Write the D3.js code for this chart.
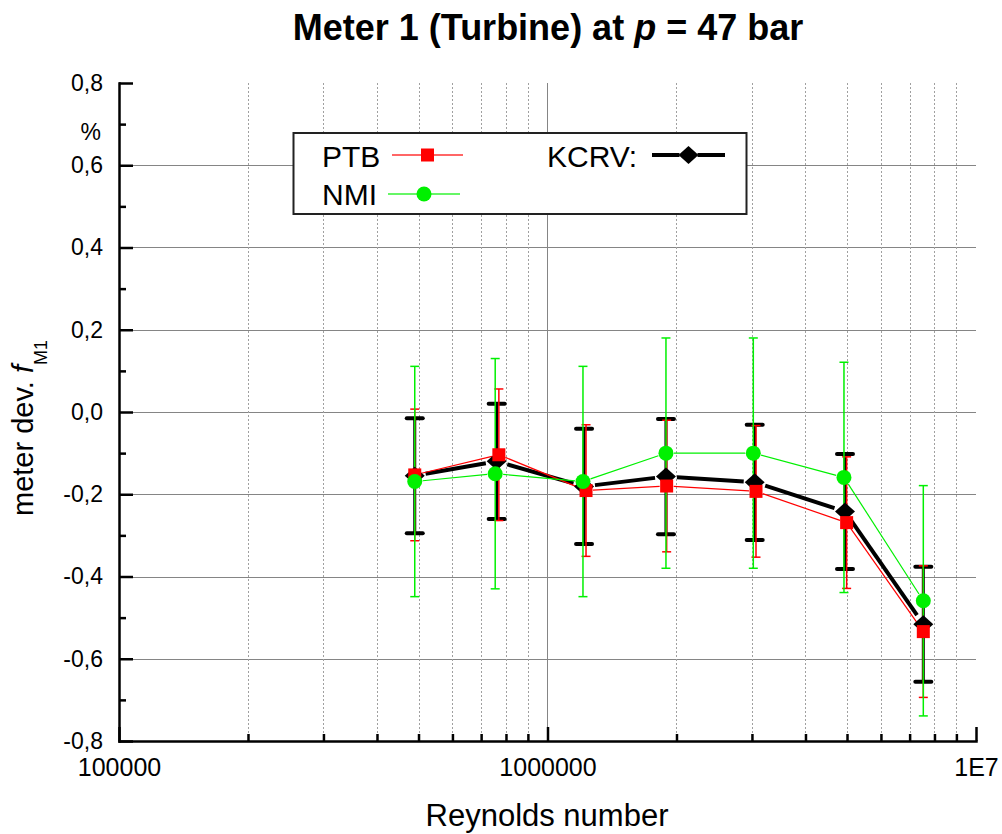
<!DOCTYPE html>
<html>
<head>
<meta charset="utf-8">
<script src="https://cdn.jsdelivr.net/npm/d3@7"></script>
<style>
body { margin: 0; background: #fff; }
svg text { font-family: "Liberation Sans", Arial, sans-serif; fill: #000; }
</style>
</head>
<body>
<svg id="chart" width="1002" height="834"></svg>
<script>
// data
let reynoldsPTB  = [490000, 770000, 1230000, 1897000, 3066000, 4990000, 7534000];
let reynoldsNMI  = [490000, 755000, 1210000, 1890000, 3022000, 4919000, 7534000];
let reynoldsKCRV = [490000, 761000, 1217000, 1890000, 3045000, 4946000, 7534000];

let devPTB  = [-0.153, -0.104, -0.191, -0.180, -0.193, -0.269, -0.534];
let devNMI  = [-0.169, -0.150, -0.169, -0.100, -0.100, -0.159, -0.459];
let devKCRV = [-0.155, -0.120, -0.181, -0.157, -0.171, -0.242, -0.516];

let errPTB  = [0.16, 0.16, 0.16, 0.16, 0.16, 0.16, 0.16];
let errNMI  = [0.28, 0.28, 0.28, 0.28, 0.28, 0.28, 0.28];
let errKCRV = [0.14, 0.14, 0.14, 0.14, 0.14, 0.14, 0.14];

let yMajorTicks = [-0.8, -0.6, -0.4, -0.2, 0, 0.2, 0.4, 0.6, 0.8];
let yMinorTicks = [-0.7, -0.5, -0.3, -0.1, 0.1, 0.3, 0.5, 0.7];
let xMajorTicks = [1e5, 1e6, 1e7];
let xTickLabels = ['100000', '1000000', '1E7'];
let xMinorTicks = [2e5, 3e5, 4e5, 5e5, 6e5, 7e5, 8e5, 9e5, 2e6, 3e6, 4e6, 5e6, 6e6, 7e6, 8e6, 9e6];

const xLeft = 119, xRight = 976, yTop = 83, yBottom = 741;
const green = '#00f000';

let svg = d3.select('#chart');
let x = d3.scaleLog().domain([1e5, 1e7]).range([xLeft, xRight]);
let y = d3.scaleLinear().domain([-0.8, 0.8]).range([yBottom, yTop]);
let crisp = v => Math.round(v) + 0.5;

// grid
let grid = svg.append('g');
grid.selectAll('line.hg')
    .data(yMajorTicks.filter(d => d > -0.8 && d < 0.8))
    .join('line')
    .attr('x1', xLeft).attr('x2', xRight)
    .attr('y1', d => crisp(y(d))).attr('y2', d => crisp(y(d)))
    .attr('stroke', '#858585').attr('stroke-width', 1);
grid.selectAll('line.vm')
    .data(xMinorTicks)
    .join('line')
    .attr('x1', d => crisp(x(d))).attr('x2', d => crisp(x(d)))
    .attr('y1', yTop).attr('y2', yBottom)
    .attr('stroke', '#a0a0a0').attr('stroke-width', 1)
    .attr('stroke-dasharray', '2,2');
grid.selectAll('line.vM')
    .data([1e6])
    .join('line')
    .attr('x1', d => crisp(x(d))).attr('x2', d => crisp(x(d)))
    .attr('y1', yTop).attr('y2', yBottom)
    .attr('stroke', '#858585').attr('stroke-width', 1);

// axes
let fmtY = d => d3.format('.1f')(d).replace('.', ',').replace('\u2212', '-');

function styleAxis(g, size) {
    g.selectAll('path.domain').attr('stroke-width', 2.5).attr('stroke-linecap', 'square');
    g.selectAll('.tick line').attr('stroke-width', 2.5);
    g.selectAll('text').attr('font-size', size).attr('font-family', '"Liberation Sans", Arial, sans-serif');
}

svg.append('g')
    .attr('transform', `translate(${xLeft},0)`)
    .call(d3.axisLeft(y).tickValues(yMinorTicks).tickSize(-7).tickFormat(''))
    .call(g => g.select('.domain').remove())
    .call(g => g.selectAll('.tick line').attr('stroke-width', 2.5));
svg.append('g')
    .attr('transform', `translate(${xLeft},0)`)
    .call(d3.axisLeft(y).tickValues(yMajorTicks).tickSizeInner(-14).tickSizeOuter(0).tickPadding(16).tickFormat(fmtY))
    .call(g => styleAxis(g, 23));

svg.append('g')
    .attr('transform', `translate(0,${yBottom})`)
    .call(d3.axisBottom(x).tickValues(xMinorTicks).tickSize(-7).tickFormat(''))
    .call(g => g.select('.domain').remove())
    .call(g => g.selectAll('.tick line').attr('stroke-width', 2.5));
svg.append('g')
    .attr('transform', `translate(0,${yBottom})`)
    .call(d3.axisBottom(x).tickValues(xMajorTicks).tickSizeInner(-14).tickSizeOuter(0).tickPadding(17)
        .tickFormat((d, i) => xTickLabels[i]))
    .call(g => styleAxis(g, 25));

// titles
let title = svg.append('text')
    .attr('x', 548).attr('y', 40)
    .attr('text-anchor', 'middle')
    .attr('font-size', 36).attr('font-weight', 'bold');
title.append('tspan').text('Meter 1 (Turbine) at ');
title.append('tspan').attr('font-style', 'italic').text('p');
title.append('tspan').text(' = 47 bar');

svg.append('text')
    .attr('x', 547).attr('y', 826)
    .attr('text-anchor', 'middle')
    .attr('font-size', 31)
    .text('Reynolds number');

let ylab = svg.append('text')
    .attr('transform', 'translate(33,516) rotate(-90)')
    .attr('font-size', 29);
ylab.append('tspan').text('meter dev. ');
ylab.append('tspan').attr('font-style', 'italic').text('f');
ylab.append('tspan').attr('font-size', 18).attr('dy', 14).text('M1');

svg.append('text')
    .attr('x', 101).attr('y', 140)
    .attr('text-anchor', 'end')
    .attr('font-size', 23)
    .text('%');

// legend
let legend = svg.append('g');
legend.append('rect')
    .attr('x', 293.5).attr('y', 133).attr('width', 453).attr('height', 81)
    .attr('fill', '#fff').attr('stroke', '#222').attr('stroke-width', 2);

// marker shapes
let diamond = 'M-10,0L0,-9L10,0L0,9Z';
function drawMarker(g, kind, cx, cy) {
    if (kind === 'square') {
        g.append('rect').attr('x', cx - 6.5).attr('y', cy - 6.5).attr('width', 13).attr('height', 13).attr('fill', '#ff0000');
    } else if (kind === 'circle') {
        g.append('circle').attr('cx', cx).attr('cy', cy).attr('r', 7.5).attr('fill', green);
    } else {
        g.append('path').attr('d', diamond).attr('transform', `translate(${cx},${cy})`).attr('fill', '#000');
    }
}

let series = [
    {name: 'KCRV', re: reynoldsKCRV, val: devKCRV, err: errKCRV, color: '#000', lw: 4, ew: 3, cap: 16, capw: 4, marker: 'diamond', gap: 11},
    {name: 'PTB', re: reynoldsPTB, val: devPTB, err: errPTB, color: '#ff0000', lw: 1.2, ew: 1.5, cap: 9, capw: 1.5, marker: 'square', gap: 7},
    {name: 'NMI', re: reynoldsNMI, val: devNMI, err: errNMI, color: green, lw: 1.2, ew: 1.5, cap: 9, capw: 1.5, marker: 'circle', gap: 8}
];

function gapSegment(x1, y1, x2, y2, gap) {
    let dx = x2 - x1, dy = y2 - y1, len = Math.sqrt(dx * dx + dy * dy);
    if (len <= 2 * gap) return null;
    let ux = dx / len, uy = dy / len;
    return [x1 + ux * gap, y1 + uy * gap, x2 - ux * gap, y2 - uy * gap];
}

// legend entries
let legendItems = [
    {s: series[1], label: 'PTB', tx: 322, ty: 167, lx1: 392, lx2: 463, ly: 155},
    {s: series[2], label: 'NMI', tx: 322, ty: 205, lx1: 388, lx2: 460, ly: 194},
    {s: series[0], label: 'KCRV:', tx: 547, ty: 167, lx1: 652, lx2: 725, ly: 155}
];
legendItems.forEach(it => {
    legend.append('text').attr('x', it.tx).attr('y', it.ty).attr('font-size', 30).text(it.label);
    let cx = (it.lx1 + it.lx2) / 2;
    [[it.lx1, cx - it.s.gap + 2], [cx + it.s.gap - 2, it.lx2]].forEach(seg => {
        legend.append('line')
            .attr('x1', seg[0]).attr('x2', seg[1]).attr('y1', it.ly).attr('y2', it.ly)
            .attr('stroke', it.s.color).attr('stroke-width', it.s.name === 'KCRV' ? 4 : 1.2);
    });
    drawMarker(legend, it.s.marker, cx, it.ly);
});

// lines and error bars
let plot = svg.append('g');
series.forEach(s => {
    let g = plot.append('g');
    let pts = s.re.map((r, i) => [x(r), y(s.val[i])]);
    for (let i = 0; i < pts.length - 1; i++) {
        let seg = gapSegment(pts[i][0], pts[i][1], pts[i + 1][0], pts[i + 1][1], s.gap);
        if (!seg) continue;
        g.append('line')
            .attr('x1', seg[0]).attr('y1', seg[1]).attr('x2', seg[2]).attr('y2', seg[3])
            .attr('stroke', s.color).attr('stroke-width', s.lw);
    }
    s.re.forEach((r, i) => {
        let cx = x(r);
        let top = y(s.val[i] + s.err[i]), bot = y(s.val[i] - s.err[i]);
        g.append('line')
            .attr('x1', cx).attr('x2', cx).attr('y1', top).attr('y2', bot)
            .attr('stroke', s.color).attr('stroke-width', s.ew);
        [top, bot].forEach(cy => {
            g.append('line')
                .attr('x1', cx - s.cap / 2).attr('x2', cx + s.cap / 2).attr('y1', cy).attr('y2', cy)
                .attr('stroke', s.color).attr('stroke-width', s.capw)
                .attr('stroke-linecap', s.name === 'KCRV' ? 'round' : 'butt');
        });
    });
});

// markers on top
series.forEach(s => {
    let g = plot.append('g');
    s.re.forEach((r, i) => drawMarker(g, s.marker, x(r), y(s.val[i])));
});
</script>
</body>
</html>
